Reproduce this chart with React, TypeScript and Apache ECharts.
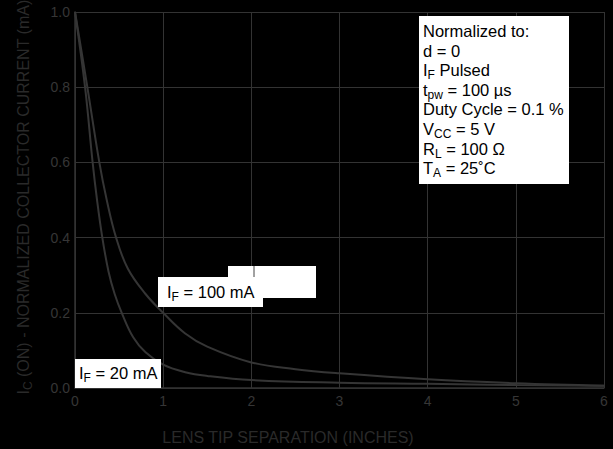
import React, { useEffect, useRef } from "react";
import * as echarts from "echarts";

const xTicks = [0, 1, 2, 3, 4, 5, 6];
const yTicks = [0, 0.2, 0.4, 0.6, 0.8, 1.0];

const if20X = [0, 0.114, 0.2, 0.25, 0.31, 0.38, 0.45, 0.53, 0.66, 0.8, 1.0, 1.25, 1.5, 2, 3, 4, 5, 6];
const if20Y = [1, 0.8, 0.6, 0.5, 0.4, 0.31, 0.25, 0.2, 0.135, 0.095, 0.062, 0.042, 0.032, 0.021, 0.014, 0.011, 0.008, 0.006];

const if100X = [0, 0.14, 0.276, 0.36, 0.466, 0.6, 0.8, 1.0, 1.25, 1.5, 2, 2.5, 3, 4, 5, 6];
const if100Y = [1, 0.8, 0.6, 0.5, 0.4, 0.317, 0.25, 0.2, 0.145, 0.11, 0.068, 0.05, 0.039, 0.023, 0.0125, 0.006];

// [main, subscript, main, ...]
const noteLines: string[][] = [
  ["Normalized to:"],
  ["d = 0"],
  ["I", "F", " Pulsed"],
  ["t", "pw", " = 100 µs"],
  ["Duty Cycle = 0.1 %"],
  ["V", "CC", " = 5 V"],
  ["R", "L", " = 100 Ω"],
  ["T", "A", " = 25˚C"],
];
const label100 = ["I", "F", " = 100 mA"];
const label20 = ["I", "F", " = 20 mA"];
const yTitle = ["I", "C", " (ON) - NORMALIZED COLLECTOR CURRENT (mA)"];
const xTitle = "LENS TIP SEPARATION (INCHES)";

const FONT = "'Liberation Sans', Arial, sans-serif";

let measureCtx: CanvasRenderingContext2D | null = null;
function measure(text: string, font: string): number {
  if (!measureCtx) measureCtx = document.createElement("canvas").getContext("2d");
  if (!measureCtx) return text.length * 8;
  measureCtx.font = font;
  return measureCtx.measureText(text).width;
}

function subText(parts: string[], x: number, y: number, size: number, subSize: number, fill: string, dy: number): any[] {
  const els: any[] = [];
  let cx = x;
  parts.forEach((p, i) => {
    const isSub = i % 2 === 1;
    const fs = isSub ? subSize : size;
    const font = `${fs}px ${FONT}`;
    els.push({
      type: "text",
      x: cx,
      y: isSub ? y + dy : y,
      z: 101,
      style: { text: p, font, fill, align: "left", verticalAlign: "middle" },
    });
    cx += measure(p, font);
  });
  return els;
}

function widthOf(parts: string[], size: number, subSize: number): number {
  return parts.reduce((w, p, i) => w + measure(p, `${i % 2 === 1 ? subSize : size}px ${FONT}`), 0);
}

export default function App() {
  const ref = useRef<HTMLDivElement>(null);
  useEffect(() => {
    if (!ref.current) return;
    const chart = echarts.init(ref.current, null, { renderer: "svg" });
    const gridColor = "#333";
    const labelColor = "#363636";
    const titleColor = "#2a2a2a";

    const graphics: any[] = [];
    graphics.push({ type: "rect", shape: { x: 419, y: 16, width: 150, height: 168 }, style: { fill: "#fff" }, z: 100 });
    noteLines.forEach((parts, i) => {
      graphics.push(...subText(parts, 423, 31 + i * 19.6, 16.5, 12, "#000", 5));
    });
    graphics.push({ type: "rect", shape: { x: 228, y: 266, width: 88, height: 32 }, style: { fill: "#fff" }, z: 100 });
    graphics.push({ type: "line", shape: { x1: 254, y1: 266, x2: 254, y2: 278 }, style: { stroke: "#444", lineWidth: 1 }, z: 100 });
    graphics.push({ type: "rect", shape: { x: 158, y: 277, width: 105, height: 30 }, style: { fill: "#fff" }, z: 100 });
    graphics.push(...subText(label100, 167, 292, 16.5, 12, "#000", 5));
    graphics.push({ type: "rect", shape: { x: 75, y: 359, width: 86, height: 29 }, style: { fill: "#fff" }, z: 100 });
    graphics.push(...subText(label20, 79, 373, 16.5, 12, "#000", 5));
    graphics.push({
      type: "text",
      x: 288,
      y: 437,
      z: 101,
      style: { text: xTitle, fill: titleColor, font: `16px ${FONT}`, align: "center", verticalAlign: "middle" },
    });
    const yw = widthOf(yTitle, 16, 12);
    graphics.push({
      type: "group",
      x: 23,
      y: 197,
      rotation: Math.PI / 2,
      children: subText(yTitle, -yw / 2, 0, 16, 12, titleColor, 5),
    });

    chart.setOption({
      animation: false,
      backgroundColor: "#000",
      grid: { left: 75, right: 9, top: 12, bottom: 61 },
      xAxis: {
        type: "value",
        min: xTicks[0],
        max: xTicks[xTicks.length - 1],
        interval: 1,
        axisLine: { show: true, onZero: false, lineStyle: { color: gridColor, width: 1.5 } },
        axisTick: { show: false },
        splitLine: { show: true, lineStyle: { color: gridColor, width: 1 } },
        axisLabel: { color: labelColor, fontSize: 14, fontFamily: FONT, margin: 6 },
      },
      yAxis: {
        type: "value",
        min: yTicks[0],
        max: yTicks[yTicks.length - 1],
        interval: 0.2,
        axisLine: { show: true, onZero: false, lineStyle: { color: gridColor, width: 1.5 } },
        axisTick: { show: false },
        splitLine: { show: true, lineStyle: { color: gridColor, width: 1 } },
        axisLabel: { color: labelColor, fontSize: 14, fontFamily: FONT, margin: 5, formatter: (v: number) => v.toFixed(1) },
      },
      series: [
        {
          name: "IF = 20 mA",
          type: "line",
          data: if20X.map((x, i) => [x, if20Y[i]]),
          showSymbol: false,
          smooth: 0.4,
          lineStyle: { color: "#353535", width: 2 },
        },
        {
          name: "IF = 100 mA",
          type: "line",
          data: if100X.map((x, i) => [x, if100Y[i]]),
          showSymbol: false,
          smooth: 0.4,
          lineStyle: { color: "#353535", width: 2 },
        },
      ],
      graphic: graphics,
    });
    return () => chart.dispose();
  }, []);
  return (
    <div
      ref={ref}
      style={{ position: "fixed", left: 0, top: 0, width: 613, height: 449, background: "#000" }}
    />
  );
}
